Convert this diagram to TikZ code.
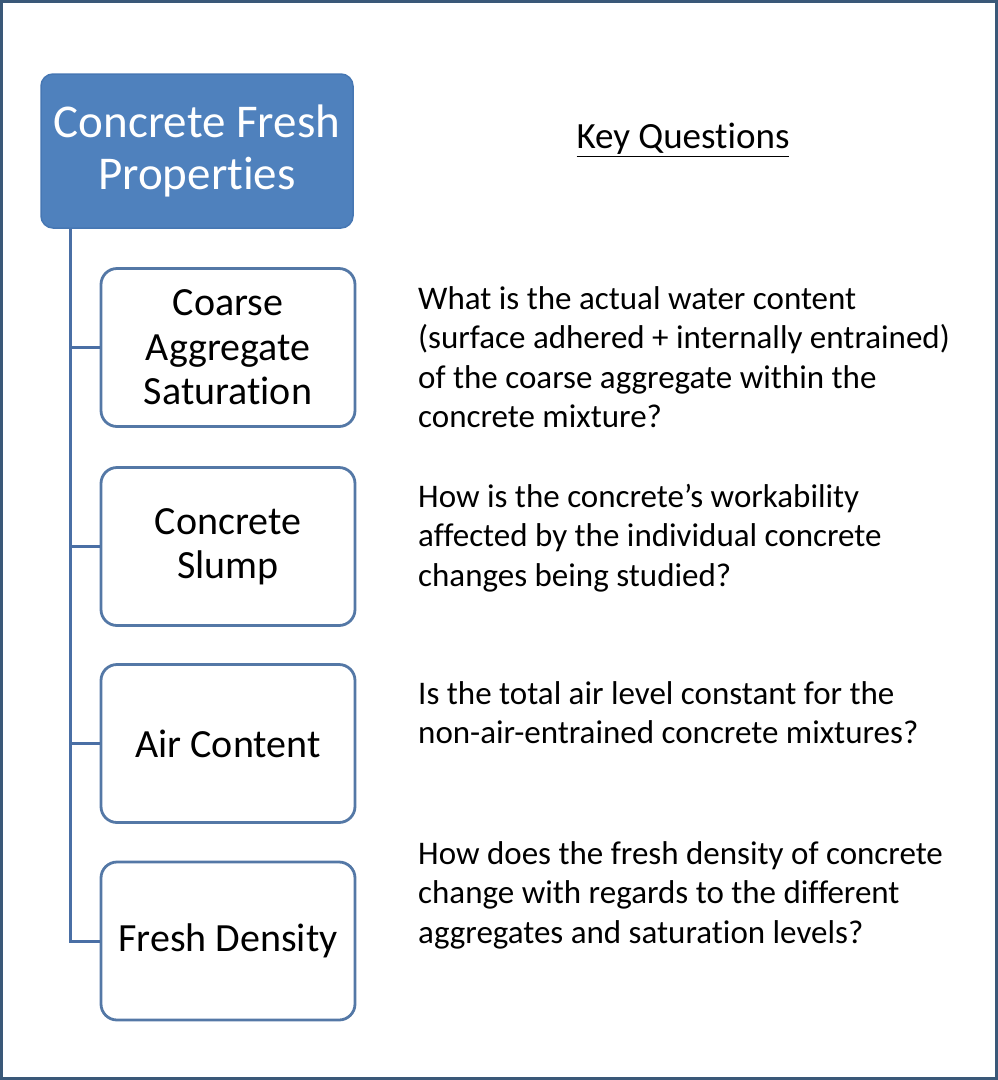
\documentclass[tikz,border=0pt]{standalone}
\usepackage{fontspec}
\setmainfont{Carlito}[RawFeature={-liga}]
\usetikzlibrary{positioning}
\definecolor{rootFill}{HTML}{4F81BD}
\definecolor{rootLine}{HTML}{4677B3}
\definecolor{boxLine}{HTML}{5478A6}
\definecolor{treeLine}{HTML}{4A6FA5}
\definecolor{frameLine}{HTML}{3A5878}

\begin{document}
\begin{tikzpicture}[x=1pt,y=-1pt]

          \tikzstyle{rootNode} = [draw=rootLine, fill=rootFill, line width=1.5pt, rounded corners=12pt,
                                  minimum width=312pt, minimum height=154pt, text=white, align=center,
                                  font=\fontsize{47}{52}\selectfont];
          \tikzstyle{propNode} = [draw=boxLine, line width=2.8pt, rounded corners=16pt,
                                  minimum width=254pt, minimum height=158pt, align=center,
                                  font=\fontsize{40}{44.5}\selectfont];
          \tikzstyle{questionNode} = [anchor=north west, inner sep=0pt, align=left,
                                  font=\fontsize{33}{39.5}\selectfont];

          \tikzstyle{treeEdge} = [treeLine, line width=3pt];

          \useasboundingbox (0,0) rectangle (998,1080);
          \draw[frameLine, line width=3pt] (1.5,1.5) rectangle (996.5,1078.5);

          \node[rootNode] (root) at (197,151) {Concrete Fresh\\Properties};
          \node[font=\fontsize{37}{40}\selectfont] (key) at (683,140) {\underline{Key Questions}};

          \node[propNode] (sat) at (228,347.5) {Coarse\\Aggregate\\Saturation};
          \node[propNode] (slump) at (228,546.5) {Concrete\\Slump};
          \node[propNode] (air) at (228,743.5) {Air Content};
          \node[propNode] (dens) at (228,941) {Fresh Density};

          \node[questionNode] (qsat) at (418,286) {What is the actual water content\\(surface adhered + internally entrained)\\of the coarse aggregate within the\\concrete mixture?};
          \node[questionNode] (qslump) at (418,484) {How is the concrete’s workability\\affected by the individual concrete\\changes being studied?};
          \node[questionNode] (qair) at (418,681) {Is the total air level constant for the\\non-air-entrained concrete mixtures?};
          \node[questionNode] (qdens) at (418,841) {How does the fresh density of concrete\\change with regards to the different\\aggregates and saturation levels?};

          \coordinate (trunk) at (70,228);
          \draw[treeEdge] (root.south -| trunk) |- (dens.west);
          \draw[treeEdge] (trunk |- sat.west) -- (sat.west);
          \draw[treeEdge] (trunk |- slump.west) -- (slump.west);
          \draw[treeEdge] (trunk |- air.west) -- (air.west);
        \end{tikzpicture}
\end{document}
